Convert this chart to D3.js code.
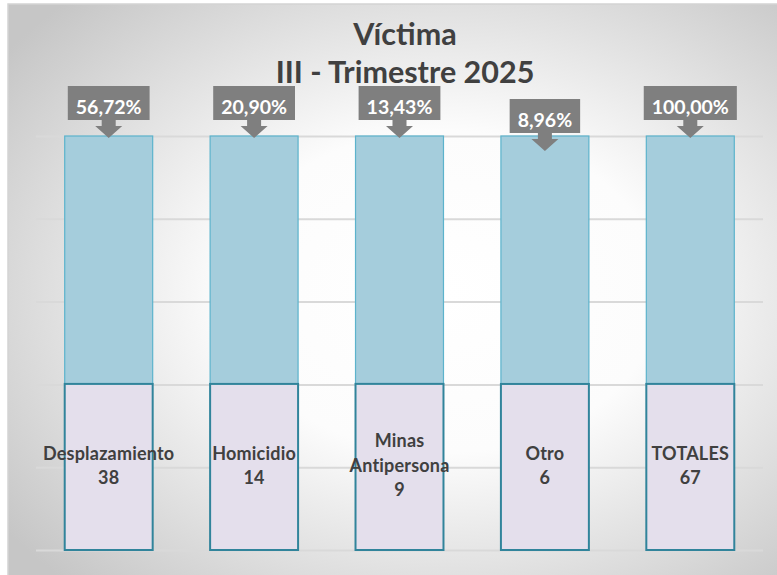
<!DOCTYPE html>
<html>

<head>
    <title>Víctima III - Trimestre 2025</title>
    <script src="https://d3js.org/d3.v7.min.js"></script>
    <style>
        body { margin: 0; background: #fff; }
        text { font-family: Lato, "Open Sans", sans-serif; font-weight: bold; }
    </style>
</head>

<body>

    <svg width="777" height="575" id="mainSvg"></svg>
    <script>
        // datos
        const categories = ["Desplazamiento", "Homicidio", "Minas Antipersona", "Otro", "TOTALES"];
        const counts = [38, 14, 9, 6, 67];
        const percents = [56.72, 20.90, 13.43, 8.96, 100.00];
        const titleLines = ["Víctima", "III - Trimestre 2025"];
        const gridTicks = [0, 0.2, 0.4, 0.6, 0.8, 1];

        const svg = d3.select("#mainSvg");
        const width = +svg.attr("width");
        const height = +svg.attr("height");

        const plot = { left: 36, right: 763, top: 136, bottom: 550 };

        // fondo con degradado radial
        const defs = svg.append("defs");
        const grad = defs.append("radialGradient")
            .attr("id", "bg")
            .attr("cx", "0.56").attr("cy", "0.5").attr("r", "0.7");
        grad.append("stop").attr("offset", "0").attr("stop-color", "#ffffff");
        grad.append("stop").attr("offset", "0.4").attr("stop-color", "#fcfcfc");
        grad.append("stop").attr("offset", "1").attr("stop-color", "#c6c6c6");

        svg.append("rect")
            .attr("x", 8).attr("y", 4)
            .attr("width", width).attr("height", height)
            .attr("fill", "url(#bg)")
            .attr("stroke", "#d4d4d4").attr("stroke-width", 1.5);

        const rows = categories.map((c, i) => ({ name: c, count: counts[i], pct: percents[i] }));

        const stack = d3.stack().keys(["count", "pct"]).offset(d3.stackOffsetExpand);
        const series = stack(rows);

        const x = d3.scaleBand()
            .domain(categories)
            .range([plot.left, plot.right])
            .paddingInner(0.395)
            .paddingOuter(0.1975);

        const y = d3.scaleLinear().domain([0, 1]).range([plot.bottom, plot.top]);

        // líneas de cuadrícula
        svg.append("g")
            .attr("transform", `translate(${plot.left},0)`)
            .call(d3.axisLeft(y).tickValues(gridTicks).tickSize(-(plot.right - plot.left)).tickFormat(""))
            .call(g => g.select(".domain").remove())
            .call(g => g.selectAll("line").attr("stroke", "#d9d9d9").attr("stroke-width", 2));

        // barras
        const fills = ["#e4dfec", "#a5cddc"];
        const strokes = ["#31849b", "#5cb3cc"];
        const strokeW = [2, 1.2];

        // la serie superior primero, la inferior encima para que su borde se vea
        [1, 0].forEach(si => {
            svg.append("g").selectAll("rect")
                .data(series[si]).join("rect")
                .attr("x", d => x(d.data.name))
                .attr("width", x.bandwidth())
                .attr("y", d => y(d[1]))
                .attr("height", d => y(d[0]) - y(d[1]))
                .attr("fill", fills[si])
                .attr("stroke", strokes[si])
                .attr("stroke-width", strokeW[si]);
        });

        // etiquetas dentro de la parte inferior
        const lab = svg.append("g");
        series[0].forEach(d => {
            const lines = d.data.name.split(" ").concat([String(d.data.count)]);
            const cx = x(d.data.name) + x.bandwidth() / 2;
            const cy = (y(d[0]) + y(d[1])) / 2;
            const lh = 24.5;
            const t = lab.append("text")
                .attr("text-anchor", "middle")
                .attr("fill", "#404040")
                .attr("font-size", 18)
                .attr("letter-spacing", 0.2);
            lines.forEach((l, k) => {
                t.append("tspan")
                    .attr("x", cx)
                    .attr("y", cy + (k - (lines.length - 1) / 2) * lh + 5)
                    .text(l);
            });
        });

        // globos con porcentaje
        const fmt = v => v.toFixed(2).replace(".", ",") + "%";
        const callouts = svg.append("g");
        series[1].forEach((d, i) => {
            const cx = x(d.data.name) + x.bandwidth() / 2;
            const top = y(d[1]);
            const drop = i === 3 ? 13 : 0;
            const g = callouts.append("g").attr("transform", `translate(${cx},${top + drop})`);
            const t = g.append("text")
                .attr("text-anchor", "middle")
                .attr("fill", "#ffffff")
                .attr("font-size", 19.5)
                .attr("y", -22)
                .text(fmt(d.data.pct));
            const w = t.node().getComputedTextLength() + 16;
            const bh = 34, by = -50;
            g.insert("path", "text")
                .attr("fill", "#7f7f7f")
                .attr("d", [
                    `M${-w / 2},${by}`, `H${w / 2}`, `V${by + bh}`,
                    `H7`, `V${by + bh + 6}`, `H13.5`, `L0,2`, `L-13.5,${by + bh + 6}`,
                    `H-7`, `V${by + bh}`, `H${-w / 2}`, "Z"
                ].join(""));
        });

        // título
        svg.append("g").selectAll("text")
            .data(titleLines).join("text")
            .attr("x", 405)
            .attr("y", (d, i) => 45 + i * 38)
            .attr("text-anchor", "middle")
            .attr("fill", "#404040")
            .attr("font-size", 30.5)
            .text(d => d);
    </script>
</body>

</html>
